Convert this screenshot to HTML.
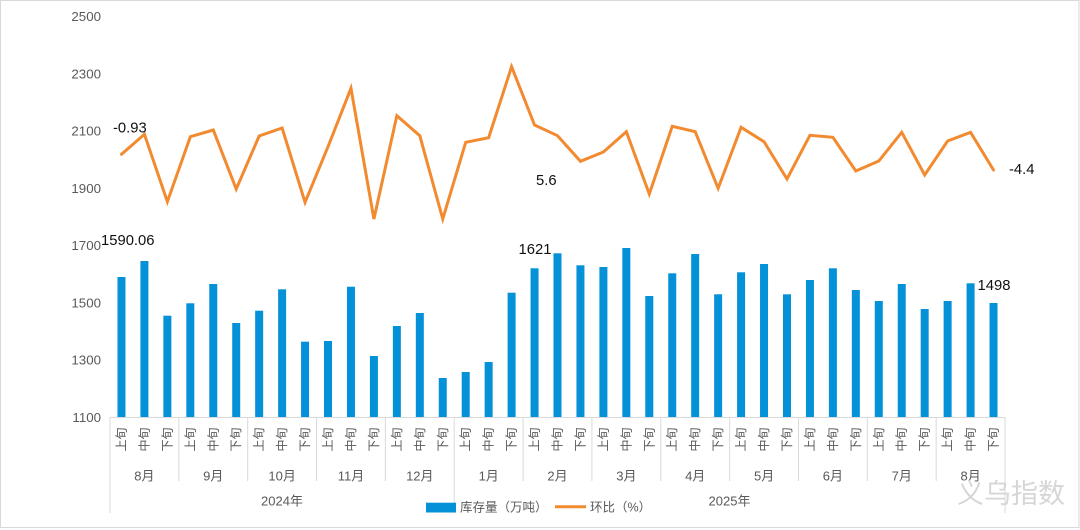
<!DOCTYPE html>
<html>
<head>
<meta charset="utf-8">
<style>
  html,body{margin:0;padding:0;background:#fff;}
  svg{display:block;}
  .tk{font-family:"Liberation Sans","Noto Sans CJK SC",sans-serif;fill:#595959;}
  .lb{font-family:"Liberation Sans","Noto Sans CJK SC",sans-serif;fill:#111;}
</style>
</head>
<body>
<svg width="1080" height="530" viewBox="0 0 1080 530" xmlns="http://www.w3.org/2000/svg">
  <rect x="0.5" y="0.5" width="1078.5" height="527" fill="#fff" stroke="#d9d9d9" stroke-width="1"/>

  <!-- y axis labels -->
  <g class="tk" font-size="13.3" text-anchor="end" dominant-baseline="central">
    <text x="101" y="417.5">1100</text>
    <text x="101" y="360.2">1300</text>
    <text x="101" y="302.9">1500</text>
    <text x="101" y="245.6">1700</text>
    <text x="101" y="188.3">1900</text>
    <text x="101" y="131.1">2100</text>
    <text x="101" y="73.8">2300</text>
    <text x="101" y="16.5">2500</text>
  </g>

  <g id="bars" fill="#0491d8"></g>

  <!-- axis line -->
  <line x1="110" y1="417.5" x2="1005" y2="417.5" stroke="#d9d9d9" stroke-width="1"/>
  <g id="seps" stroke="#d9d9d9" stroke-width="1"></g>

  <polyline id="ln" fill="none" stroke="#f28a30" stroke-width="3" stroke-linejoin="miter" stroke-linecap="round"/>

  <g id="xl" class="tk" font-size="12"></g>

  <!-- month labels -->
  <g class="tk" font-size="13" text-anchor="middle" dominant-baseline="central">
    <text x="144.4" y="476">8月</text>
    <text x="213.3" y="476">9月</text>
    <text x="282.1" y="476">10月</text>
    <text x="351" y="476">11月</text>
    <text x="419.8" y="476">12月</text>
    <text x="488.7" y="476">1月</text>
    <text x="557.5" y="476">2月</text>
    <text x="626.4" y="476">3月</text>
    <text x="695.2" y="476">4月</text>
    <text x="764.1" y="476">5月</text>
    <text x="832.9" y="476">6月</text>
    <text x="901.8" y="476">7月</text>
    <text x="970.6" y="476">8月</text>
    <text x="282" y="501">2024年</text>
    <text x="729.5" y="501">2025年</text>
  </g>

  <!-- data labels -->
  <g class="lb" font-size="14.8" dominant-baseline="central">
    <text x="113" y="128.5">-0.93</text>
    <text x="101" y="241">1590.06</text>
    <text x="536" y="181">5.6</text>
    <text x="518.5" y="250">1621</text>
    <text x="1009" y="170">-4.4</text>
    <text x="977.5" y="286">1498</text>
  </g>

  <!-- legend -->
  <rect x="426" y="502.7" width="30" height="9.8" fill="#0491d8"/>
  <text class="tk" x="460" y="507.5" font-size="12.5" dominant-baseline="central">库存量（万吨）</text>
  <line x1="555" y1="506.8" x2="586" y2="506.8" stroke="#f28a30" stroke-width="3"/>
  <text class="tk" x="590" y="507.5" font-size="12.5" dominant-baseline="central">环比（%）</text>

  <!-- watermark -->
  <text x="957" y="494" font-size="27" fill="#d6d6d6" font-family="'Liberation Sans','Noto Sans CJK SC',sans-serif" dominant-baseline="central">义乌指数</text>

  <script>
    (function(){
      var ns="http://www.w3.org/2000/svg";
      var tops=[277,261,315.7,303.3,284,323,310.7,289.3,341.7,341,286.7,356,326,313,378,372,362,292.7,268.3,253.3,265.3,267,248,296,273.3,254,294.3,272.3,264,294.3,280,268.3,290,301,284,309,301,283.3,303];
      var ly=[154.3,134.3,201.7,136.7,130,189,136,128,202.3,146.7,88.3,219,115.7,135.7,219,142.3,137.7,66.7,125,135.7,161.3,152,131.7,194,126.3,131.7,188.3,127.3,141.7,179,135.3,137.3,171,161,132.3,175,141,132.3,170];
      var step=895/39;
      var bars=document.getElementById('bars');
      var xl=document.getElementById('xl');
      var pts=[];
      var names=['上旬','中旬','下旬'];
      for(var i=0;i<39;i++){
        var cx=110+step*(i+0.5);
        var r=document.createElementNS(ns,'rect');
        r.setAttribute('x',(cx-4).toFixed(2));
        r.setAttribute('y',tops[i]);
        r.setAttribute('width',8);
        r.setAttribute('height',(417.5-tops[i]).toFixed(2));
        bars.appendChild(r);
        pts.push(cx.toFixed(2)+','+ly[i]);
        var t=document.createElementNS(ns,'text');
        t.setAttribute('transform','translate('+cx.toFixed(2)+',439.5) rotate(-90)');
        t.setAttribute('text-anchor','middle');
        t.setAttribute('dominant-baseline','central');
        t.textContent=names[i%3];
        xl.appendChild(t);
      }
      document.getElementById('ln').setAttribute('points',pts.join(' '));
      var seps=document.getElementById('seps');
      for(var m=0;m<=13;m++){
        var x=110+step*3*m;
        var long=(m===0||m===5||m===13);
        var l=document.createElementNS(ns,'line');
        l.setAttribute('x1',x.toFixed(2));l.setAttribute('x2',x.toFixed(2));
        l.setAttribute('y1',417.5);l.setAttribute('y2',long?513:481);
        seps.appendChild(l);
      }
    })();
  </script>
</svg>
</body>
</html>
